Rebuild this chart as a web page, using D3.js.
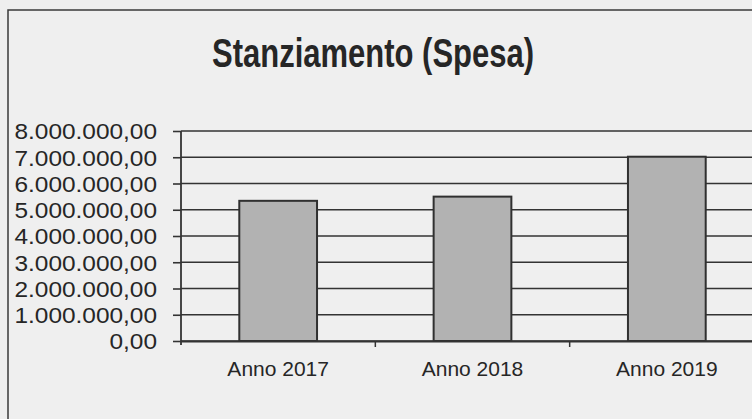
<!DOCTYPE html>
<meta charset="utf-8">
<html>
<head>
<style>
body { margin: 0; background: #eeeeee; }
svg { display: block; }
.lbl { font-family: "Liberation Sans", Arial, sans-serif; fill: #262626; }
</style>
</head>
<body>
<script src="https://d3js.org/d3.v7.min.js"></script>
<script>

// data
var anni = ["Anno 2017", "Anno 2018", "Anno 2019"];
var stanziamento = [5340000, 5500000, 7020000];
var yTicks = [0, 1000000, 2000000, 3000000, 4000000, 5000000, 6000000, 7000000, 8000000];
var titolo = "Stanziamento (Spesa)";

var width = 752, height = 419;
var plot = {left: 181, right: 764, top: 131, bottom: 341};

var it = d3.formatLocale({decimal: ",", thousands: ".", grouping: [3], currency: ["€", ""]});
var fmt = it.format(",.2f");

var svg = d3.select("body").append("svg")
  .attr("width", width)
  .attr("height", height);

svg.append("rect")
  .attr("width", width).attr("height", height)
  .attr("fill", "#eeeeee");

// outer chart border
svg.append("rect")
  .attr("x", 8).attr("y", 10)
  .attr("width", width + 20).attr("height", height + 20)
  .attr("fill", "#efefef")
  .attr("stroke", "#3a3a3a")
  .attr("stroke-width", 1.5);

var x = d3.scaleBand()
  .domain(anni)
  .range([plot.left, plot.right]);

var y = d3.scaleLinear()
  .domain([0, 8000000])
  .range([plot.bottom, plot.top]);

// gridlines
svg.append("g")
  .selectAll("line")
  .data(yTicks)
  .enter().append("line")
  .attr("x1", plot.left).attr("x2", plot.right)
  .attr("y1", function(d) { return y(d); })
  .attr("y2", function(d) { return y(d); })
  .attr("stroke", "#333")
  .attr("stroke-width", 1.6);

// bars
var barW = x.bandwidth() * 0.4;
svg.append("g")
  .selectAll("rect")
  .data(stanziamento)
  .enter().append("rect")
  .attr("x", function(d, i) { return x(anni[i]) + (x.bandwidth() - barW) / 2; })
  .attr("y", function(d) { return y(d); })
  .attr("width", barW)
  .attr("height", function(d) { return y(0) - y(d); })
  .attr("fill", "#b2b2b2")
  .attr("stroke", "#303030")
  .attr("stroke-width", 2);

// y axis
var yAxis = d3.axisLeft(y)
  .tickValues(yTicks)
  .tickSize(8)
  .tickPadding(16)
  .tickFormat(fmt);

var gy = svg.append("g")
  .attr("transform", "translate(" + plot.left + ",0)")
  .call(yAxis);
gy.select(".domain")
  .attr("d", "M0," + plot.top + "V" + (plot.bottom + 4))
  .attr("stroke", "#333").attr("stroke-width", 1.8);
gy.selectAll(".tick line").attr("stroke", "#333").attr("stroke-width", 1.6);
gy.selectAll(".tick text")
  .attr("class", "lbl")
  .attr("x", 0)
  .attr("dy", "0.36em")
  .attr("transform", "translate(-24,0) scale(1.11,1)")
  .style("font-size", "22px");

// x axis
var xAxis = d3.axisBottom(x).tickSize(0).tickPadding(20);
var gx = svg.append("g")
  .attr("transform", "translate(0," + plot.bottom + ")")
  .call(xAxis);
gx.select(".domain").attr("stroke", "#333").attr("stroke-width", 1.8);
gx.selectAll(".tick text")
  .attr("class", "lbl")
  .attr("dy", "0.71em")
  .style("font-size", "21px");

// category boundary ticks
svg.append("g")
  .selectAll("line")
  .data(anni.slice(1))
  .enter().append("line")
  .attr("x1", function(d) { return x(d); })
  .attr("x2", function(d) { return x(d); })
  .attr("y1", plot.bottom)
  .attr("y2", plot.bottom + 6)
  .attr("stroke", "#333")
  .attr("stroke-width", 1.5);

// title
svg.append("text")
  .attr("class", "lbl")
  .attr("text-anchor", "middle")
  .attr("transform", "translate(373,67) scale(1,1.3)")
  .style("font-size", "31px")
  .style("font-weight", "bold")
  .text(titolo);

</script>
</body>
</html>
